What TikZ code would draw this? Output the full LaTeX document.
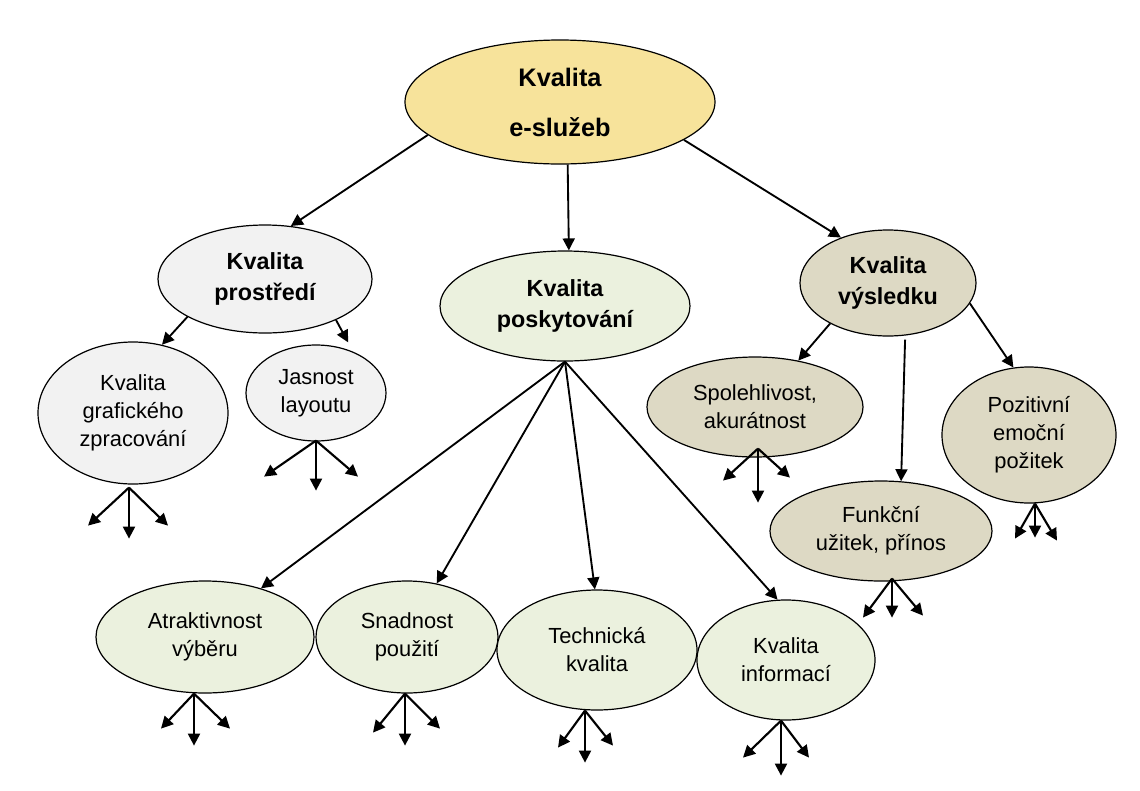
\documentclass[tikz,border=0pt]{standalone}
\usepackage{fontspec}
\setmainfont{Liberation Sans}
\usetikzlibrary{shapes.geometric,arrows.meta,calc}
\definecolor{cyellow}{HTML}{F7E39B}
\definecolor{cgray}{HTML}{F2F2F2}
\definecolor{cgreen}{HTML}{EBF1DE}
\definecolor{ctan}{HTML}{DDD9C4}
\tikzset{
  el/.style={ellipse, draw=black, line width=0.9pt, inner sep=0pt, align=center},
  toptext/.style={font=\fontsize{19}{37.5}\selectfont\bfseries},
  midtext/.style={font=\fontsize{17.5}{23}\selectfont\bfseries},
  leaftext/.style={font=\fontsize{16.4}{21}\selectfont},
  conn/.style={line width=1.4pt, -{Triangle[length=9pt,width=9pt]}},
  fanar/.style={line width=1.6pt, -{Triangle[length=9pt,width=9pt]}},
}
\newcommand\elnode[7]{\node[el, #7, minimum width=#4*1.5pt, minimum height=#5*1.5pt] (#1) at (#2,#3) {#6};}
\newcommand\fan[8]{%
  \coordinate (#1o) at ($(#1.south)+(#2,#3)$);
  \coordinate (#1l) at ($(#1o)+(#4,#5)$);
  \coordinate (#1d) at ($(#1o)+(0,#6)$);
  \coordinate (#1r) at ($(#1o)+(#7,#8)$);
  \draw[fanar] (#1o) -- (#1l);
  \draw[fanar] (#1o) -- (#1d);
  \draw[fanar] (#1o) -- (#1r);}
\begin{document}
\begin{tikzpicture}[x=0.75pt,y=-0.75pt]
\useasboundingbox (0,0) rectangle (1140,790);
% nodes
\elnode{top}{560}{102}{155}{62}{Kvalita\\e-služeb}{fill=cyellow, toptext}
\elnode{prost}{265}{279}{107}{54}{Kvalita\\prostředí}{fill=cgray, midtext}
\elnode{posk}{565}{306}{125}{55}{Kvalita\\poskytování}{fill=cgreen, midtext}
\elnode{vys}{888}{283}{88}{53}{Kvalita\\výsledku}{fill=ctan, midtext}
\elnode{graf}{133}{413}{95}{71}{Kvalita\\grafického\\zpracování}{fill=cgray, leaftext}
\elnode{jas}{316}{393}{70}{48}{Jasnost\\layoutu}{fill=cgray, leaftext}
\elnode{spol}{755}{407}{108}{50}{Spolehlivost,\\akurátnost}{fill=ctan, leaftext}
\elnode{poz}{1029}{435}{87}{68}{Pozitivní\\emoční\\požitek}{fill=ctan, leaftext}
\elnode{funk}{881}{531}{111}{50}{Funkční\\užitek, přínos}{fill=ctan, leaftext}
\elnode{attr}{205}{637}{109}{56}{Atraktivnost\\výběru}{fill=cgreen, leaftext}
\elnode{snad}{407}{637}{91}{56}{Snadnost\\použití}{fill=cgreen, leaftext}
\elnode{tech}{597}{650}{100}{60}{Technická\\kvalita}{fill=cgreen, leaftext}
\elnode{info}{786}{660}{89}{60}{Kvalita\\informací}{fill=cgreen, leaftext}
% main connectors
\draw[conn] (top.194) -- (prost.64);
\draw[conn] (top.-83) -- (posk.86);
\draw[conn] (top.-17) -- (vys.136);
\draw[conn] (prost.206) -- (graf.67);
\draw[conn, shorten >=8pt] (prost.-30) -- (jas.48);
\draw[conn] (vys.215) -- (spol.47);
\draw[conn] ($(vys.-72)+(0,4)$) -- (funk.68);
\draw[conn] (vys.-14) -- (poz.103);
\draw[conn] (posk.south) -- (attr.41);
\draw[conn] (posk.south) -- (snad.61);
\draw[conn] (posk.south) -- (tech.92);
\draw[conn] (posk.south) -- (info.98);
% fans
\fan{graf}{-4}{3}{-41}{38}{51}{39}{38}
\fan{jas}{0}{-1}{-52}{36}{50}{42}{36}
\fan{spol}{3}{-9}{-35}{32}{54}{32}{29}
\fan{poz}{6}{0}{-20}{35}{34}{22}{37}
\fan{funk}{11}{-3}{-29}{39}{39}{31}{37}
\fan{attr}{-11}{0}{-33}{35}{52}{36}{35}
\fan{snad}{-2}{0}{-32}{39}{52}{35}{35}
\fan{tech}{-12}{0}{-27}{37}{52}{28}{35}
\fan{info}{-5}{0}{-38}{37}{55}{28}{37}
\end{tikzpicture}
\end{document}
